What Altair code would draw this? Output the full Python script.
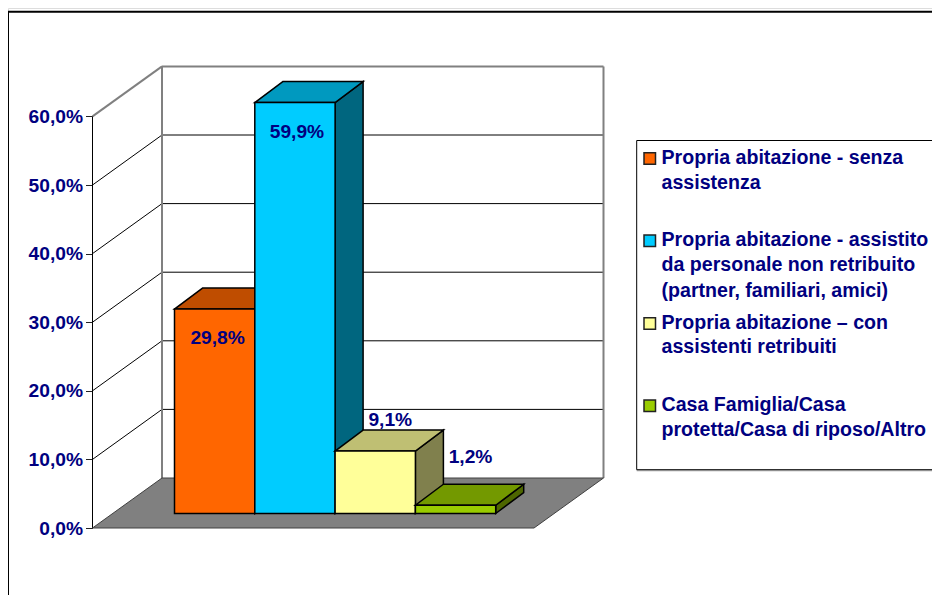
import altair as alt
import pandas as pd

# --- values ---
categories = ["Propria abitazione - senza assistenza",
              "Propria abitazione - assistito da personale non retribuito (partner, familiari, amici)",
              "Propria abitazione – con assistenti retribuiti",
              "Casa Famiglia/Casa protetta/Casa di riposo/Altro"]
values = [29.8, 59.9, 9.1, 1.2]
value_labels = ["29,8%", "59,9%", "9,1%", "1,2%"]
legend_lines = [["Propria abitazione - senza", "assistenza"],
                ["Propria abitazione - assistito", "da personale non retribuito", "(partner, familiari, amici)"],
                ["Propria abitazione – con", "assistenti retribuiti"],
                ["Casa Famiglia/Casa", "protetta/Casa di riposo/Altro"]]
front_colors = ["#FF6600", "#00CCFF", "#FFFF99", "#99CC00"]
top_colors = ["#BF4D00", "#0099BF", "#BFBF73", "#739900"]
side_colors = ["#7F3300", "#00667F", "#80804D", "#4D6600"]
y_ticks = [0, 10, 20, 30, 40, 50, 60]

# --- layout of the pseudo-3D projection ---
W, H = 924, 587
FONT = "Liberation Sans"
NAVY = "#000080"
PX = 6.86                      # pixels per percentage point
xs = alt.Scale(domain=[8, 8 + W], zero=False, nice=False)
ys = alt.Scale(domain=[-67 / PX, 520 / PX], zero=False, nice=False)

AX0 = 92.5                     # front-left corner of the floor
FLOOR_W = 441.5
WALL_DX, WALL_DV = 69.5, 50 / PX
BAR_X0, BAR_W = 174.5, 80.3
BAR_DX, BAR_DV = 28, 21 / PX
BAR_LIFT = 14.5 / PX

y_axis = alt.Axis(values=y_ticks, orient="left", offset=-(AX0 - 8), domain=False, grid=False,
                  tickSize=7, tickColor="#222222", tickWidth=1,
                  labelFont=FONT, labelFontWeight="bold", labelFontSize=19.2, labelColor=NAVY,
                  labelPadding=3,
                  labelExpr="replace(format(datum.value, '.1f'), '.', ',') + '%'")


def X(f="x"):
    return alt.X(f, type="quantitative", scale=xs, axis=None, title=None)


def X2(f="x2"):
    return alt.X2(f)


def Y(f="y"):
    return alt.Y(f, type="quantitative", scale=ys, axis=y_axis, title=None)


def Y2(f="y2"):
    return alt.Y2(f)


def rule(rows, color, width):
    return alt.Chart(pd.DataFrame(rows, columns=["x", "x2", "y", "y2"])).mark_rule(
        color=color, strokeWidth=width).encode(x=X(), x2=X2(), y=Y(), y2=Y2())


layers = []

# page frame
layers.append(alt.Chart(pd.DataFrame({"a": [0]})).mark_rect(
    fillOpacity=0, stroke="black", strokeWidth=2).encode(
    x=alt.value(0), x2=alt.value(1100), y=alt.value(3.7), y2=alt.value(900)))

# side wall and back wall gridlines
grid = [t for t in y_ticks if 0 < t < 60]
layers.append(rule([[AX0, AX0 + WALL_DX, t, t + WALL_DV] for t in grid], "black", 1))
layers.append(rule([[AX0 + WALL_DX, AX0 + WALL_DX + FLOOR_W, t + WALL_DV, t + WALL_DV] for t in grid], "black", 1))
layers.append(rule([[AX0, AX0, 0, 60]], "black", 1))
layers.append(rule([
    [AX0, AX0 + WALL_DX, 60, 60 + WALL_DV],
    [AX0 + WALL_DX, AX0 + WALL_DX, WALL_DV, 60 + WALL_DV],
    [AX0 + WALL_DX, AX0 + WALL_DX + FLOOR_W, 60 + WALL_DV, 60 + WALL_DV],
    [AX0 + WALL_DX + FLOOR_W, AX0 + WALL_DX + FLOOR_W, WALL_DV, 60 + WALL_DV],
], "#808080", 2))

# floor
layers.append(alt.Chart(pd.DataFrame({"y": [0, WALL_DV], "x": [AX0, AX0 + WALL_DX],
                                      "x2": [AX0 + FLOOR_W, AX0 + WALL_DX + FLOOR_W]})).mark_area(
    orient="horizontal", color="#808080", stroke="#404040", strokeWidth=1).encode(
    x=X(), x2=X2(), y=Y()))

# bars: right face, top face, front face
for i, v in enumerate(values):
    left = BAR_X0 + i * BAR_W
    right = left + BAR_W
    lo, hi = BAR_LIFT, BAR_LIFT + v
    side = pd.DataFrame({"x": [right, right + BAR_DX], "y": [lo, lo + BAR_DV], "y2": [hi, hi + BAR_DV]})
    layers.append(alt.Chart(side).mark_area(orient="vertical", color=side_colors[i], stroke="black",
                                            strokeWidth=1.5).encode(x=X(), y=Y(), y2=Y2()))
    top = pd.DataFrame({"y": [hi, hi + BAR_DV], "x": [left, left + BAR_DX], "x2": [right, right + BAR_DX]})
    layers.append(alt.Chart(top).mark_area(orient="horizontal", color=top_colors[i], stroke="black",
                                           strokeWidth=1.5).encode(x=X(), x2=X2(), y=Y()))
    front = pd.DataFrame({"x": [left], "x2": [right], "y": [lo], "y2": [hi], "cat": [categories[i]]})
    layers.append(alt.Chart(front).mark_rect(color=front_colors[i], stroke="black", strokeWidth=1.5).encode(
        x=X(), x2=X2(), y=Y(), y2=Y2()))

# value labels
label_off = [(3, 29), (2, 29), (15, -31), (15, -48)]
for i, v in enumerate(values):
    df = pd.DataFrame({"x": [BAR_X0 + (i + .5) * BAR_W], "y": [BAR_LIFT + v], "t": [value_labels[i]]})
    layers.append(alt.Chart(df).mark_text(font=FONT, fontWeight="bold", fontSize=19.2, color=NAVY,
                                          dx=label_off[i][0], dy=label_off[i][1]).encode(
        x=X(), y=Y(), text="t:N"))

# legend box
LX, LT, LB = 636.7 - 8, 140.5 - 8, 469.7 - 8
layers.append(alt.Chart(pd.DataFrame({"a": [0]})).mark_rect(fill="white", stroke="black", strokeWidth=1).encode(
    x=alt.value(LX), x2=alt.value(1100), y=alt.value(LT), y2=alt.value(LB)))
layers.append(alt.Chart(pd.DataFrame({"a": [0]})).mark_rule(color="#808080", strokeWidth=1).encode(
    x=alt.value(LX), x2=alt.value(1100), y=alt.value(LB + 1)))

entry_y = [152.7 - 8, 235 - 8, 317.7 - 8, 400 - 8]
line_base = [[156, 181], [238, 263, 289], [321, 345], [403, 428]]
for i, lines in enumerate(legend_lines):
    layers.append(alt.Chart(pd.DataFrame({"a": [categories[i]]})).mark_rect(
        color=front_colors[i], stroke="#222222", strokeWidth=1.5).encode(
        x=alt.value(636), x2=alt.value(647.5), y=alt.value(entry_y[i]), y2=alt.value(entry_y[i] + 11.5)))
    for line, by in zip(lines, line_base[i]):
        layers.append(alt.Chart(pd.DataFrame({"t": [line]})).mark_text(
            font=FONT, fontWeight="bold", fontSize=19.6, color=NAVY, align="left", baseline="alphabetic").encode(
            x=alt.value(653.5), y=alt.value(by), text="t:N"))

chart = alt.layer(*layers).properties(
    width=W, height=H, padding=0, autosize=alt.AutoSizeParams(type="none")
).configure_view(stroke=None).configure(background="white")

chart.save("out.html", embed_options={"renderer": "svg", "actions": False})
